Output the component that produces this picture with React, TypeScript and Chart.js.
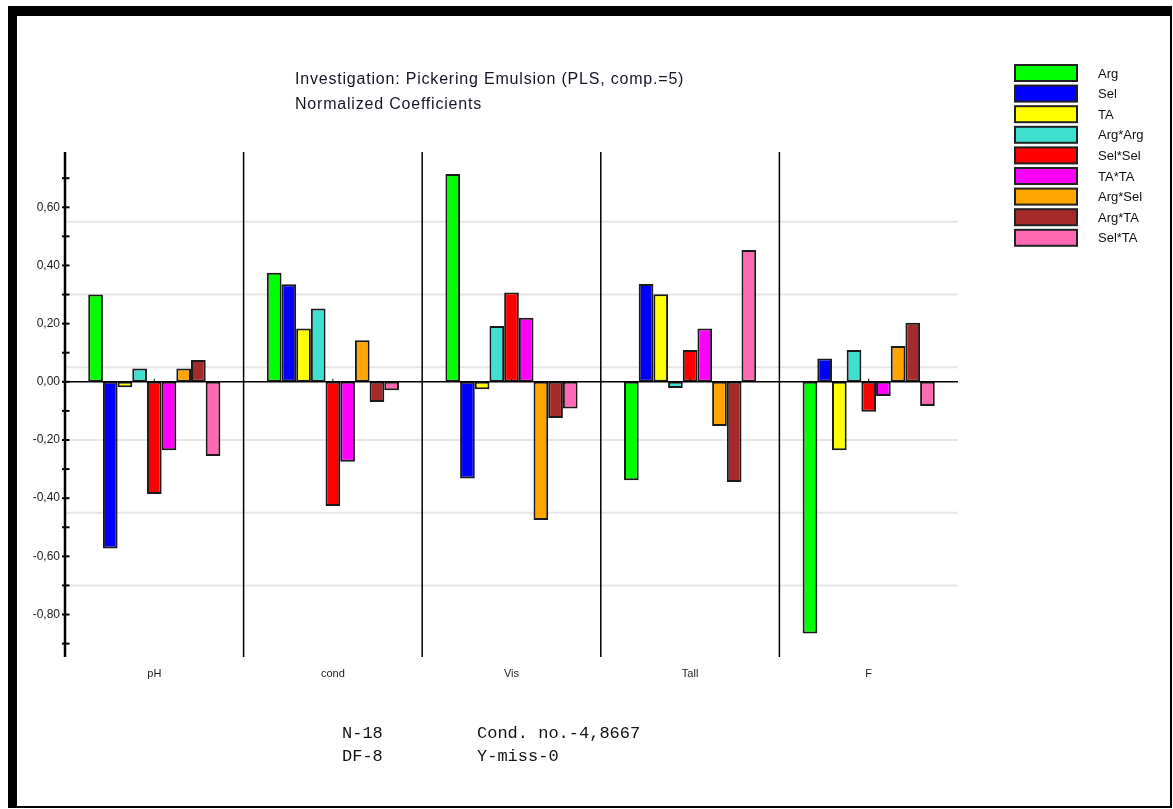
import React, { useEffect, useRef } from 'react';
import { Chart, registerables } from 'chart.js';

Chart.register(...registerables);

// ---------------- data ----------------
const categories = ['pH', 'cond', 'Vis', 'Tall', 'F'];
const seriesNames = ['Arg', 'Sel', 'TA', 'Arg*Arg', 'Sel*Sel', 'TA*TA', 'Arg*Sel', 'Arg*TA', 'Sel*TA'];
const seriesColors = ['#00FF00', '#0000FF', '#FFFF00', '#40E0D0', '#FF0000', '#FF00FF', '#FFA500', '#A52A2A', '#FF69B4'];

const argValues = [0.30, 0.375, 0.714, -0.338, -0.865];
const selValues = [-0.573, 0.335, -0.332, 0.336, 0.080];
const taValues = [-0.019, 0.183, -0.026, 0.301, -0.235];
const argArgValues = [0.046, 0.252, 0.192, -0.021, 0.109];
const selSelValues = [-0.386, -0.427, 0.307, 0.109, -0.103];
const taTaValues = [-0.235, -0.275, 0.220, 0.183, -0.049];
const argSelValues = [0.046, 0.143, -0.475, -0.152, 0.123];
const argTaValues = [0.075, -0.069, -0.124, -0.344, 0.203];
const selTaValues = [-0.255, -0.029, -0.092, 0.453, -0.083];

const seriesValues = [argValues, selValues, taValues, argArgValues, selSelValues, taTaValues, argSelValues, argTaValues, selTaValues];

const yMin = -0.946;
const yMax = 0.79;
const yTickValues = [-0.9, -0.8, -0.7, -0.6, -0.5, -0.4, -0.3, -0.2, -0.1, 0, 0.1, 0.2, 0.3, 0.4, 0.5, 0.6, 0.7];
const gridValues = [0.55, 0.30, 0.05, -0.20, -0.45, -0.70];

const titleLines = ['Investigation: Pickering Emulsion (PLS, comp.=5)', 'Normalized Coefficients'];
const statsLeft = ['N-18', 'DF-8'];
const statsRight = ['Cond. no.-4,8667', 'Y-miss-0'];

const FONT = '"Liberation Sans", Arial, sans-serif';

function line(ctx: CanvasRenderingContext2D, x1: number, y1: number, x2: number, y2: number) {
  ctx.beginPath();
  ctx.moveTo(x1, y1);
  ctx.lineTo(x2, y2);
  ctx.stroke();
}

const decorPlugin = {
  id: 'decor',
  beforeDatasetsDraw(chart: any) {
    const { ctx, chartArea, scales } = chart;
    const { left, right, top, bottom } = chartArea;
    const y = scales.y;
    ctx.save();
    // light grid lines
    ctx.strokeStyle = '#e6e6e6';
    ctx.lineWidth = 2;
    gridValues.forEach((v) => {
      const py = y.getPixelForValue(v);
      line(ctx, left, py, right, py);
    });
    // category separators
    ctx.strokeStyle = '#000';
    ctx.lineWidth = 1.5;
    const n = categories.length;
    const w = (right - left) / n;
    for (let i = 1; i < n; i++) {
      const px = left + i * w;
      line(ctx, px, top, px, bottom);
    }
    // y axis line
    ctx.lineWidth = 2.5;
    line(ctx, left, top, left, bottom);
    // ticks crossing the axis
    ctx.lineWidth = 2;
    yTickValues.forEach((v) => {
      const py = y.getPixelForValue(v);
      line(ctx, left - 3, py, left + 4.5, py);
    });
    ctx.restore();
  },
  afterDatasetsDraw(chart: any) {
    const { ctx, chartArea, scales } = chart;
    const { left, right } = chartArea;
    const y = scales.y;
    const x = scales.x;
    ctx.save();
    const py0 = y.getPixelForValue(0);
    ctx.strokeStyle = '#000';
    ctx.lineWidth = 1.5;
    line(ctx, left, py0, right, py0);
    ctx.lineWidth = 1;
    categories.forEach((_, i) => {
      const px = x.getPixelForValue(i);
      line(ctx, px, py0 - 3, px, py0);
    });
    ctx.restore();
  },
  afterDraw(chart: any) {
    const { ctx } = chart;
    ctx.save();
    const bx = 1015;
    const by = 65;
    const pitch = 20.6;
    chart.data.datasets.forEach((ds: any, i: number) => {
      const yy = by + i * pitch;
      ctx.fillStyle = ds.backgroundColor;
      ctx.fillRect(bx, yy, 62, 16);
      ctx.strokeStyle = '#222';
      ctx.lineWidth = 2;
      ctx.strokeRect(bx, yy, 62, 16);
      ctx.fillStyle = '#111';
      ctx.font = `13px ${FONT}`;
      ctx.textBaseline = 'middle';
      ctx.textAlign = 'left';
      ctx.fillText(ds.label, 1098, yy + 9);
    });
    ctx.restore();
  },
};

function fmt(v: number) {
  return v.toFixed(2).replace('.', ',');
}

export default function App() {
  const canvasRef = useRef<HTMLCanvasElement | null>(null);

  useEffect(() => {
    if (!canvasRef.current) return;
    const chart = new Chart(canvasRef.current, {
      type: 'bar',
      data: {
        labels: categories,
        datasets: seriesNames.map((name, i) => ({
          label: name,
          data: seriesValues[i],
          backgroundColor: seriesColors[i],
          borderColor: '#1a1a1a',
          borderWidth: 2,
          borderSkipped: false,
          categoryPercentage: 0.74,
          barPercentage: 1.0,
        })),
      },
      options: {
        responsive: false,
        animation: false,
        layout: { padding: { top: 152, right: 215, bottom: 112, left: 0 } },
        plugins: {
          legend: { display: false },
          title: { display: false },
          tooltip: { enabled: false },
        },
        scales: {
          x: {
            afterFit: (s: any) => {
              s.height = 40;
            },
            grid: { display: false, drawTicks: false },
            border: { display: false },
            ticks: { padding: 10, color: '#222', font: { size: 11, family: FONT } },
          },
          y: {
            min: yMin,
            max: yMax,
            afterFit: (s: any) => {
              s.width = 65;
            },
            afterBuildTicks: (s: any) => {
              s.ticks = yTickValues.map((v) => ({ value: v }));
            },
            grid: { display: false, drawTicks: false },
            border: { display: false },
            ticks: {
              autoSkip: false,
              padding: 5,
              color: '#222',
              font: { size: 12, family: FONT },
              callback: (v: any) => {
                const n = Math.round(Number(v) * 10);
                return Math.abs(n) % 2 === 0 ? fmt(n / 10) : '';
              },
            },
          },
        },
      },
      plugins: [decorPlugin],
    });
    return () => chart.destroy();
  }, []);

  return (
    <div style={{ position: 'absolute', left: 0, top: 0, width: 1173, height: 809, background: '#fff', overflow: 'hidden' }}>
      <div
        style={{
          position: 'absolute',
          left: 8,
          top: 6,
          width: 1164,
          height: 802,
          boxSizing: 'border-box',
          borderStyle: 'solid',
          borderColor: '#000',
          borderWidth: '10px 2px 2px 9px',
        }}
      />
      <canvas ref={canvasRef} width={1173} height={809} style={{ position: 'absolute', left: 0, top: 0 }} />
      <div
        style={{
          position: 'absolute',
          left: 295,
          top: 66,
          font: `16px ${FONT}`,
          lineHeight: '25px',
          letterSpacing: '0.8px',
          color: '#151525',
          whiteSpace: 'pre',
        }}
      >
        {titleLines.map((t) => (
          <div key={t}>{t}</div>
        ))}
      </div>
      <div
        style={{
          position: 'absolute',
          left: 342,
          top: 723,
          font: `17px "Liberation Mono", "Courier New", monospace`,
          lineHeight: '22.5px',
          color: '#111',
          whiteSpace: 'pre',
        }}
      >
        {statsLeft.map((t) => (
          <div key={t}>{t}</div>
        ))}
      </div>
      <div
        style={{
          position: 'absolute',
          left: 477,
          top: 723,
          font: `17px "Liberation Mono", "Courier New", monospace`,
          lineHeight: '22.5px',
          color: '#111',
          whiteSpace: 'pre',
        }}
      >
        {statsRight.map((t) => (
          <div key={t}>{t}</div>
        ))}
      </div>
    </div>
  );
}
